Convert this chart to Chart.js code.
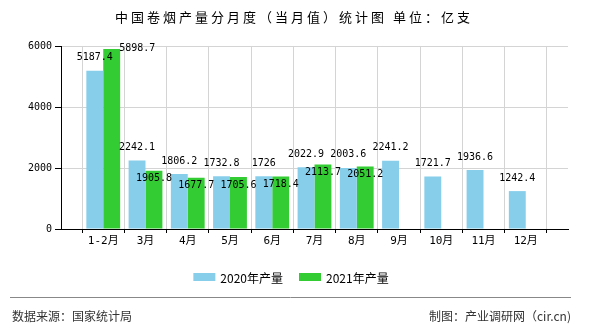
<!DOCTYPE html>
<html>
<head>
<meta charset="utf-8">
<script src="https://cdn.jsdelivr.net/npm/chart.js@4.4.0/dist/chart.umd.min.js"></script>
<style>
  html, body { margin: 0; padding: 0; background: #fff; }
  #grafica { display: block; }
</style>
</head>
<body>
<canvas id="grafica" width="590" height="330"></canvas>
<script>
// datos
const meses = ['1-2月', '3月', '4月', '5月', '6月', '7月', '8月', '9月', '10月', '11月', '12月'];
const produccion2020 = [5187.4, 2242.1, 1806.2, 1732.8, 1726, 2022.9, 2003.6, 2241.2, 1721.7, 1936.6, 1242.4];
const produccion2021 = [5898.7, 1905.8, 1677.7, 1705.6, 1718.4, 2113.7, 2051.2];
const ticksY = [0, 2000, 4000, 6000];
const nombres = ['2020年产量', '2021年产量'];
const colores = ['#87CEEB', '#33CC33'];

const titulo = '中国卷烟产量分月度（当月值）统计图 单位：亿支';
const fuenteIzq = '数据来源：国家统计局';
const fuenteDer = '制图：产业调研网（cir.cn)';

// un hueco vacío a cada lado, como en el original
const etiquetas = [''].concat(meses, ['']);
const serie = arr => {
    const out = [null];
    meses.forEach((m, i) => out.push(arr[i] ?? null));
    out.push(null);
    return out;
};

const fuenteNum = '10px "DejaVu Sans Mono", "Noto Sans CJK SC"';

// etiquetas de valor sobre las barras
const valoresPlugin = {
    id: 'valores',
    afterDatasetsDraw(chart) {
        const ctx = chart.ctx;
        ctx.save();
        ctx.font = fuenteNum;
        ctx.fillStyle = '#000';
        ctx.textBaseline = 'middle';
        const cajas = [];
        chart.getDatasetMeta(0).data.forEach((bar, i) => {
            const v = chart.data.datasets[0].data[i];
            if (v == null) return;
            const txt = String(v);
            const w = ctx.measureText(txt).width;
            const y = bar.y - 13;
            ctx.textAlign = 'center';
            ctx.fillText(txt, bar.x, y);
            cajas[i] = { l: bar.x - w / 2, r: bar.x + w / 2, t: y - 5, b: y + 5 };
        });
        chart.getDatasetMeta(1).data.forEach((bar, i) => {
            const v = chart.data.datasets[1].data[i];
            if (v == null) return;
            const txt = String(v);
            const w = ctx.measureText(txt).width;
            let y = bar.y + 8;
            const c = cajas[i];
            const choca = c && (bar.x - w / 2) < c.r && (bar.x + w / 2) > c.l && (y - 5) < c.b && (y + 5) > c.t;
            if (choca) {
                ctx.textAlign = 'left';
                ctx.fillText(txt, bar.x + bar.width / 2 - 1, bar.y - 1);
            } else {
                ctx.textAlign = 'center';
                ctx.fillText(txt, bar.x, y);
            }
        });
        ctx.restore();
    }
};

// título, leyenda y pie
const marcoPlugin = {
    id: 'marco',
    afterDraw(chart) {
        const ctx = chart.ctx;
        ctx.save();
        ctx.fillStyle = '#000';
        ctx.font = '13px "Noto Sans CJK SC"';
        ctx.letterSpacing = '3px';
        ctx.textAlign = 'center';
        ctx.textBaseline = 'middle';
        ctx.fillText(titulo, 294, 17);
        ctx.letterSpacing = '0px';

        // leyenda
        ctx.font = '12px "Noto Sans CJK SC"';
        ctx.textAlign = 'left';
        const items = chart.data.datasets.map(ds => ({ txt: ds.label, col: ds.backgroundColor, w: 22 + 5 + ctx.measureText(ds.label).width }));
        const total = items.reduce((s, it) => s + it.w, 0) + 16 * (items.length - 1);
        let x = 291 - total / 2;
        items.forEach(it => {
            ctx.fillStyle = it.col;
            ctx.fillRect(x, 273, 22, 8);
            ctx.fillStyle = '#000';
            ctx.fillText(it.txt, x + 27, 278);
            x += it.w + 16;
        });

        // línea y fuentes
        ctx.strokeStyle = '#888';
        ctx.lineWidth = 1;
        ctx.beginPath();
        ctx.moveTo(10, 297.5);
        ctx.lineTo(571, 297.5);
        ctx.stroke();
        ctx.fillStyle = '#333';
        ctx.font = '12px "Noto Sans CJK SC"';
        ctx.fillText(fuenteIzq, 12, 316);
        ctx.textAlign = 'right';
        ctx.fillText(fuenteDer, 571, 316);
        ctx.restore();
    }
};

const ctx = document.getElementById('grafica').getContext('2d');
new Chart(ctx, {
    type: 'bar',
    data: {
        labels: etiquetas,
        datasets: [
            {
                label: nombres[0],
                data: serie(produccion2020),
                backgroundColor: colores[0],
                borderWidth: 0,
                categoryPercentage: 0.8,
                barPercentage: 1.0
            },
            {
                label: nombres[1],
                data: serie(produccion2021),
                backgroundColor: colores[1],
                borderWidth: 0,
                categoryPercentage: 0.8,
                barPercentage: 1.0
            }
        ]
    },
    options: {
        responsive: false,
        animation: false,
        layout: { padding: { left: 0, right: 22, top: 46, bottom: 76 } },
        plugins: {
            legend: { display: false },
            title: { display: false },
            tooltip: { enabled: false }
        },
        scales: {
            x: {
                offset: false,
                afterFit: s => { s.height = 25; },
                grid: { color: '#d4d4d4', tickColor: '#000', tickLength: 4 },
                border: { color: '#000', width: 1 },
                ticks: {
                    autoSkip: false,
                    maxRotation: 0,
                    padding: 2,
                    color: '#000',
                    font: { family: '"DejaVu Sans Mono", "Noto Sans CJK SC"', size: 11 }
                }
            },
            y: {
                min: 0,
                max: 6000,
                afterFit: s => { s.width = 61; },
                afterBuildTicks: s => { s.ticks = ticksY.map(v => ({ value: v })); },
                grid: { color: '#d4d4d4', tickColor: '#000', tickLength: 6 },
                border: { color: '#000', width: 1 },
                ticks: {
                    padding: 3,
                    color: '#000',
                    font: { family: '"DejaVu Sans Mono"', size: 10 },
                    callback: v => String(v)
                }
            }
        }
    },
    plugins: [valoresPlugin, marcoPlugin]
});
</script>
</body>
</html>
